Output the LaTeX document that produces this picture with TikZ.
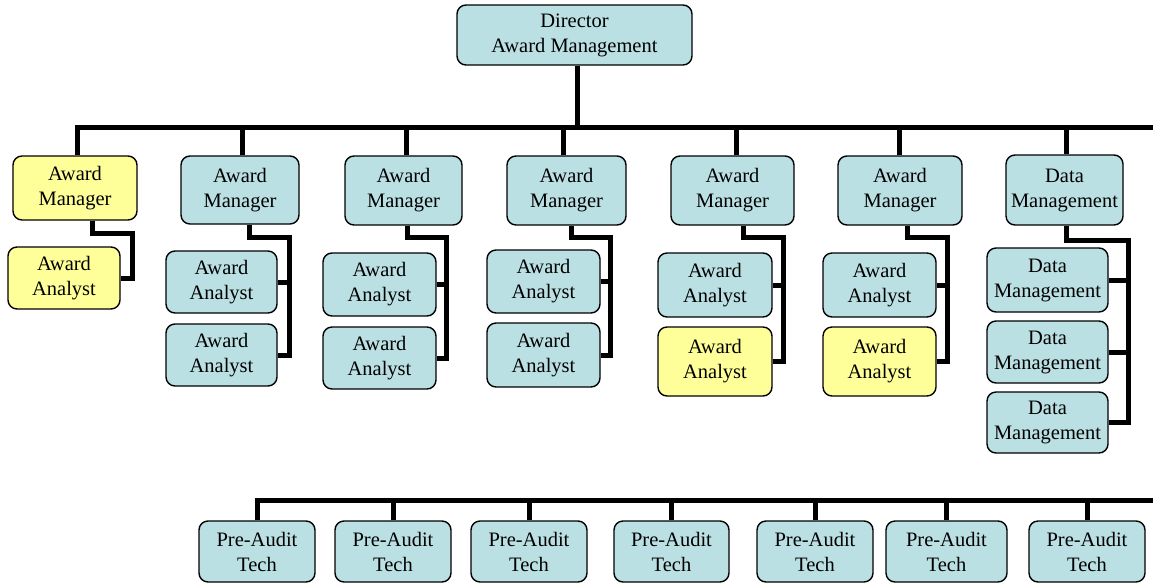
\documentclass[tikz,border=0pt]{standalone}
\usepackage{fontspec}
\setmainfont{Liberation Serif}
\usetikzlibrary{calc}
\definecolor{boxblue}{RGB}{187,224,227}
\definecolor{boxyellow}{RGB}{255,255,153}
\newcommand{\boxfont}{\fontsize{20.5}{25}\selectfont}
\begin{document}
\begin{tikzpicture}[x=1pt,y=-1pt,
  box/.style={draw, line width=1.4pt, rounded corners=9pt, fill=boxblue,
    align=center, inner sep=0pt, font=\boxfont},
  yel/.style={fill=boxyellow},
  w/.style={minimum width=#1pt},
  h/.style={minimum height=#1pt},
  conn/.style={line width=5pt}]
\useasboundingbox (0,0) rectangle (1153,584);
% top
\node[box,w=235,h=60] (dir) at (574.5,35) {Director\\Award Management};
% managers
\node[box,yel,w=124,h=64] (m1) at (75,188) {Award\\Manager};
\node[box,w=118,h=68] (m2) at (240,190) {Award\\Manager};
\node[box,w=117,h=69] (m3) at (403.5,190.5) {Award\\Manager};
\node[box,w=119,h=69] (m4) at (566.5,190.5) {Award\\Manager};
\node[box,w=123,h=69] (m5) at (732.5,190.5) {Award\\Manager};
\node[box,w=124,h=69] (m6) at (900,190.5) {Award\\Manager};
\node[box,w=117,h=70] (m7) at (1064.5,190) {Data\\Management};
% analysts
\node[box,yel,w=112,h=62] (a1) at (64,278) {Award\\Analyst};
\node[box,w=111,h=62] (a2a) at (221.5,282) {Award\\Analyst};
\node[box,w=111,h=62] (a2b) at (221.5,355) {Award\\Analyst};
\node[box,w=113,h=63] (a3a) at (379.5,284.5) {Award\\Analyst};
\node[box,w=113,h=62] (a3b) at (379.5,358) {Award\\Analyst};
\node[box,w=113,h=63] (a4a) at (543.5,281.5) {Award\\Analyst};
\node[box,w=113,h=64] (a4b) at (543.5,355) {Award\\Analyst};
\node[box,w=114,h=64] (a5a) at (715,285) {Award\\Analyst};
\node[box,yel,w=114,h=69] (a5b) at (715,361.5) {Award\\Analyst};
\node[box,w=113,h=64] (a6a) at (879.5,285) {Award\\Analyst};
\node[box,yel,w=113,h=69] (a6b) at (879.5,361.5) {Award\\Analyst};
\node[box,w=121,h=64] (d1) at (1047.5,280) {Data\\Management};
\node[box,w=121,h=62] (d2) at (1047.5,352) {Data\\Management};
\node[box,w=121,h=61] (d3) at (1047.5,422.5) {Data\\Management};
% pre-audit
\node[box,w=116,h=61] (p1) at (257,551.5) {Pre-Audit\\Tech};
\node[box,w=116,h=61] (p2) at (393,551.5) {Pre-Audit\\Tech};
\node[box,w=116,h=61] (p3) at (529,551.5) {Pre-Audit\\Tech};
\node[box,w=115,h=61] (p4) at (671.5,551.5) {Pre-Audit\\Tech};
\node[box,w=116,h=61] (p5) at (815,551.5) {Pre-Audit\\Tech};
\node[box,w=121,h=61] (p6) at (946.5,551.5) {Pre-Audit\\Tech};
\node[box,w=116,h=61] (p7) at (1087,551.5) {Pre-Audit\\Tech};
% main bar
\coordinate (barR) at (1153,127);
\draw[conn] ([xshift=2pt]m1.north) |- (barR);
\draw[conn] ([xshift=2.5pt]dir.south) -- ([xshift=2.5pt]dir.south |- barR);
\draw[conn] ([xshift=2pt]m2.north) -- ([xshift=2pt]m2.north |- barR);
\draw[conn] ([xshift=2.5pt]m3.north) -- ([xshift=2.5pt]m3.north |- barR);
\draw[conn] ([xshift=-3.5pt]m4.north) -- ([xshift=-3.5pt]m4.north |- barR);
\draw[conn] ([xshift=3.5pt]m5.north) -- ([xshift=3.5pt]m5.north |- barR);
\draw[conn] ([xshift=-1pt]m6.north) -- ([xshift=-1pt]m6.north |- barR);
\draw[conn] ([xshift=1.5pt]m7.north) -- ([xshift=1.5pt]m7.north |- barR);
% elbows
\coordinate (v1) at (132,233);
\draw[conn] ([xshift=17pt]m1.south) |- (v1) |- (a1.east);
\coordinate (v2) at (289,237);
\draw[conn] ([xshift=9pt]m2.south) |- (v2) |- (a2b.east);
\draw[conn] (a2a.east) -- (a2a.east -| v2);
\coordinate (v3) at (446,237);
\draw[conn] ([xshift=3.5pt]m3.south) |- (v3) |- (a3b.east);
\draw[conn] (a3a.east) -- (a3a.east -| v3);
\coordinate (v4) at (610,237);
\draw[conn] ([xshift=4.5pt]m4.south) |- (v4) |- (a4b.east);
\draw[conn] (a4a.east) -- (a4a.east -| v4);
\coordinate (v5) at (783,237);
\draw[conn] ([xshift=10.5pt]m5.south) |- (v5) |- (a5b.east);
\draw[conn] (a5a.east) -- (a5a.east -| v5);
\coordinate (v6) at (947,237);
\draw[conn] ([xshift=7pt]m6.south) |- (v6) |- (a6b.east);
\draw[conn] (a6a.east) -- (a6a.east -| v6);
\coordinate (v7) at (1128,240);
\draw[conn] ([xshift=1.5pt]m7.south) |- (v7) |- (d3.east);
\draw[conn] (d1.east) -- (d1.east -| v7);
\draw[conn] (d2.east) -- (d2.east -| v7);
% bottom bar
\coordinate (pbarR) at (1153,500);
\draw[conn] (p1.north) |- (pbarR);
\foreach \p in {p2,p3,p4,p5,p6,p7}
  \draw[conn] (\p.north) -- (\p.north |- pbarR);
\end{tikzpicture}
\end{document}
